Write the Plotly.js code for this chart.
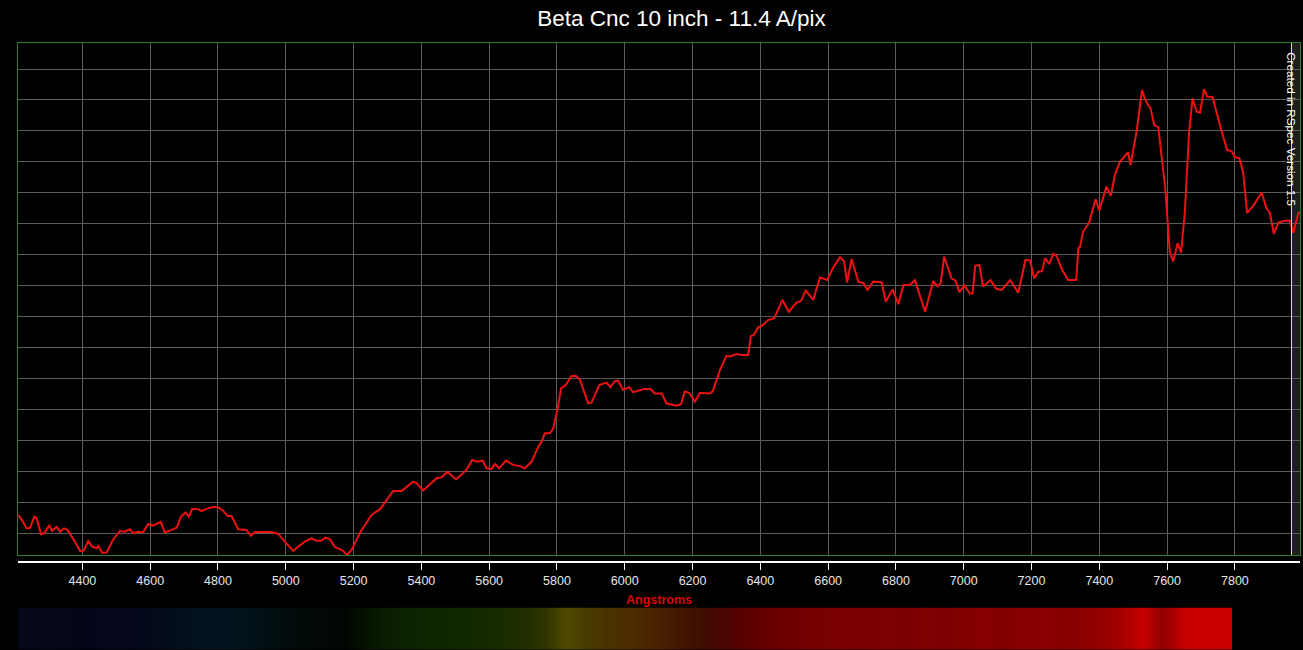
<!DOCTYPE html>
<html>
<head>
<meta charset="utf-8">
<script src="https://cdn.plot.ly/plotly-3.0.1.min.js"></script>
<style>html,body{margin:0;padding:0;background:#000;}#chart{width:1303px;height:650px;}</style>
</head>
<body>
<div id="chart"></div>
<script>
// Wavelength (Angstrom)
const wavelength = [4211,4225,4235,4245,4258,4265,4278,4287,4302,4311,
4324,4334,4346,4356,4378,4393,4404,4417,4429,4442,
4447,4458,4471,4491,4511,4525,4540,4550,4565,4579,
4594,4609,4631,4643,4663,4678,4691,4704,4714,4724,
4742,4752,4766,4786,4803,4815,4828,4840,4860,4884,
4897,4909,4958,4978,4997,5022,5037,5056,5076,5091,
5104,5117,5130,5145,5160,5169,5181,5194,5219,5253,
5278,5317,5342,5376,5386,5405,5445,5460,5477,5502,
5533,5550,5565,5581,5592,5607,5617,5630,5649,5671,
5691,5705,5725,5745,5755,5764,5779,5789,5801,5812,
5826,5843,5856,5868,5892,5902,5925,5946,5958,5971,
5981,5995,6013,6025,6057,6076,6089,6109,6123,6153,
6166,6177,6190,6207,6222,6251,6259,6281,6300,6310,
6330,6345,6364,6372,6381,6394,6404,6423,6441,6465,
6484,6507,6520,6534,6556,6576,6597,6615,6635,6647,
6656,6669,6689,6704,6716,6733,6758,6770,6790,6807,
6822,6841,6856,6886,6910,6922,6932,6942,6964,6976,
6987,7002,7018,7026,7034,7046,7057,7079,7096,7112,
7137,7161,7182,7196,7208,7220,7231,7240,7252,7264,
7274,7289,7308,7332,7338,7343,7352,7370,7389,7400,
7421,7434,7446,7461,7485,7492,7510,7526,7534,7541,
7551,7562,7574,7594,7608,7618,7631,7641,7652,7665,
7675,7687,7697,7709,7718,7734,7761,7777,7790,7800,
7813,7824,7836,7856,7879,7893,7903,7915,7928,7948,
7962,7972,7987,7997];

// Relative intensity (arbitrary units, one unit per grid line)
const intensity = [0.59,0.37,0.16,0.16,0.54,0.48,-0.03,0,0.25,0.08,
0.21,0.05,0.16,0.11,-0.27,-0.57,-0.56,-0.25,-0.43,-0.48,
-0.41,-0.63,-0.63,-0.19,0.07,0.05,0.13,0,0.05,0.03,
0.30,0.25,0.37,0.03,0.11,0.18,0.54,0.67,0.54,0.79,
0.78,0.72,0.79,0.86,0.83,0.73,0.56,0.56,0.13,0.11,
-0.08,0.04,0.04,-0.02,-0.27,-0.57,-0.43,-0.27,-0.16,-0.24,
-0.24,-0.14,-0.19,-0.45,-0.51,-0.57,-0.70,-0.54,0.02,0.59,
0.78,1.37,1.37,1.67,1.62,1.38,1.78,1.81,1.99,1.74,
2.05,2.37,2.31,2.35,2.10,2.08,2.24,2.10,2.35,2.21,
2.17,2.10,2.31,2.80,2.96,3.23,3.23,3.39,3.98,4.68,
4.79,5.08,5.09,4.95,4.20,4.22,4.79,4.87,4.72,4.92,
4.92,4.63,4.72,4.56,4.66,4.66,4.52,4.52,4.20,4.12,
4.17,4.58,4.54,4.25,4.54,4.52,4.58,5.28,5.73,5.71,
5.79,5.76,5.76,6.37,6.41,6.66,6.70,6.89,6.95,7.54,
7.16,7.45,7.51,7.84,7.54,8.27,8.18,8.59,8.92,8.78,
8.10,8.86,8.13,8.08,7.86,8.13,8.11,7.48,7.88,7.40,
8.02,8.02,8.18,7.16,8.15,7.98,8.08,8.94,8.24,8.16,
7.79,8.01,7.74,7.75,8.64,8.67,7.97,8.18,7.90,7.86,
8.18,7.77,8.83,8.81,8.23,8.45,8.47,8.89,8.70,9.03,
8.96,8.54,8.18,8.18,9.21,9.26,9.74,10.04,10.79,10.42,
11.20,10.90,11.58,12.01,12.31,11.90,12.98,14.32,14.05,13.89,
13.73,13.19,13.12,11.20,9.10,8.78,9.37,9.07,10.34,12.98,
14.05,13.62,13.59,14.35,14.11,14.09,12.98,12.38,12.35,12.15,
12.12,11.68,10.34,10.61,11.01,10.50,10.36,9.67,10.04,10.10,
10.10,9.71,10.34,10.42];

// Tick values / labels on the wavelength axis
const tickValues = [4400,4600,4800,5000,5200,5400,5600,5800,6000,6200,6400,6600,6800,7000,7200,7400,7600,7800];
const tickLabels = tickValues.map(String);

// Colours of the synthetic spectrum strip, left to right
const stripColors = ['#06061a','#07071b','#06061a','#05051a','#06061c','#05071c','#040a1c','#040c1c','#03101c','#03131e',
'#02151e','#02121a','#020f12','#020c0c','#020a08','#020806','#010502','#061400','#0a1c00','#0c2200',
'#0e2500','#0f2600','#112800','#162a00','#1a2c00','#222e00','#2e3400','#504a00','#4a3c00','#4a3200',
'#4c2e00','#4a2600','#461e00','#401400','#3e0c00','#4a0600','#580000','#640000','#6c0000','#720000',
'#760000','#7a0000','#780000','#7e0000','#7a0000','#800000','#7c0000','#820000','#860000','#820000',
'#880000','#8a0000','#840000','#8c0000','#960000','#a80000','#c80000','#900000','#c40000','#cc0000','#c80000'];

const titleText = 'Beta Cnc 10 inch - 11.4 A/pix';
const xTitle = 'Angstroms';
const creditText = 'Created in RSpec Version 1.5';
const xRange = [4210, 7992];
const yRange = [-0.711, 15.84];
const markerLambda = 7967;

const font = 'Liberation Sans, Arial, Helvetica, sans-serif';
const stripIdx = stripColors.map((c, i) => i);
const stripScale = stripColors.map((c, i) => [i / (stripColors.length - 1), c]);

const traces = [
  {
    type: 'scatter', mode: 'lines', x: wavelength, y: intensity,
    xaxis: 'x', yaxis: 'y',
    line: {color: '#ee1111', width: 2},
    hoverinfo: 'x+y', showlegend: false
  },
  {
    type: 'scatter', mode: 'lines', x: [], y: [], xaxis: 'x2', yaxis: 'y',
    hoverinfo: 'skip', showlegend: false
  },
  {
    type: 'heatmap', x: stripIdx, y: [0, 1], z: [stripIdx, stripIdx],
    colorscale: stripScale, zmin: 0, zmax: stripColors.length - 1,
    zsmooth: 'best', showscale: false, hoverinfo: 'skip',
    xaxis: 'x3', yaxis: 'y3'
  }
];

const layout = {
  width: 1303, height: 650,
  paper_bgcolor: '#000000', plot_bgcolor: '#000000',
  margin: {l: 18, r: 3, t: 43, b: 0, pad: 0},
  showlegend: false,
  font: {family: font, color: '#e6e6e6'},
  title: {
    text: titleText, x: 0.523, xref: 'container', xanchor: 'center',
    y: 0.972, yref: 'container', yanchor: 'middle',
    font: {family: font, size: 22.5, color: '#ffffff'}
  },
  xaxis: {
    range: xRange, domain: [0, 1], anchor: 'y',
    tickmode: 'array', tickvals: tickValues, showticklabels: false, ticks: '',
    showgrid: true, gridcolor: '#5c5c5c', gridwidth: 1, zeroline: false,
    showline: true, linecolor: '#2d7d2d', linewidth: 1, mirror: true
  },
  xaxis2: {
    range: xRange, overlaying: 'x', anchor: 'free', position: 0.1461, side: 'bottom',
    tickmode: 'array', tickvals: tickValues, ticktext: tickLabels,
    ticks: 'outside', ticklen: 7, tickwidth: 1, tickcolor: '#ffffff',
    showline: true, linecolor: '#ffffff', linewidth: 1.5,
    showgrid: false, zeroline: false,
    tickfont: {family: font, size: 12.5, color: '#e6e6e6'},
    title: {text: xTitle, standoff: 8, font: {family: font, size: 12.5, color: '#dd0000', weight: 'bold'}}
  },
  yaxis: {
    range: yRange, domain: [0.156, 1], anchor: 'x',
    tick0: 0, dtick: 1, showticklabels: false, ticks: '',
    showgrid: true, gridcolor: '#5c5c5c', gridwidth: 1, zeroline: false,
    showline: true, linecolor: '#2d7d2d', linewidth: 1, mirror: true
  },
  xaxis3: {domain: [0, 0.947], anchor: 'y3', visible: false, range: [-0.5, stripColors.length - 0.5]},
  yaxis3: {domain: [0, 0.070], anchor: 'x3', visible: false, range: [-0.5, 1.5]},
  shapes: [
    {type: 'rect', xref: 'x', yref: 'y', x0: markerLambda, x1: xRange[1], y0: yRange[0], y1: yRange[1],
     fillcolor: '#1e1e1e', line: {width: 0}, layer: 'below'},
    {type: 'line', xref: 'x', yref: 'y', x0: markerLambda, x1: markerLambda, y0: yRange[0], y1: yRange[1],
     line: {color: '#e8e87a', width: 1}, layer: 'above'}
  ],
  annotations: [
    {text: creditText, xref: 'paper', yref: 'paper', x: 0.9938, y: 0.858,
     xanchor: 'center', yanchor: 'middle', textangle: 90, showarrow: false,
     font: {family: font, size: 11.7, color: '#ffffff'}}
  ]
};

Plotly.newPlot('chart', traces, layout, {displayModeBar: false, staticPlot: true});
</script>
</body>
</html>
